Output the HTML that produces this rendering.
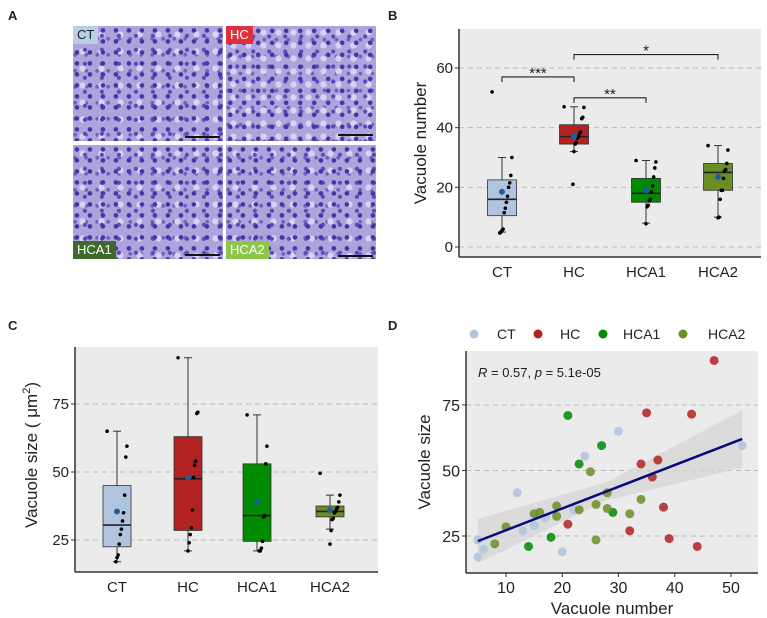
<!DOCTYPE html>
<html><head><meta charset="utf-8"><style>
body{margin:0;background:#fff;width:767px;height:618px;overflow:hidden;font-family:"Liberation Sans",Arial,sans-serif}
svg{position:absolute;left:0;top:0}
.img{position:absolute;background-color:#ad a2da;background-color:#aea3da;
background-image:radial-gradient(circle at 30% 40%,#4536a8 0 2px,transparent 2.6px),radial-gradient(circle at 70% 70%,#5a4cb8 0 1.8px,transparent 2.4px),radial-gradient(circle at 50% 50%,#d9d3f0 0 2.6px,transparent 3.6px),radial-gradient(circle at 20% 80%,#7060c0 0 1.6px,transparent 2.2px);
background-size:13px 11px,17px 14px,19px 17px,11px 16px}
.lab{position:absolute;font-size:13px;color:#222;padding:2px 4px;height:14px;line-height:14px}
.bar{position:absolute;height:2px;width:35px;background:#111}
</style></head><body>
<div class="img" style="left:73px;top:26px;width:150px;height:115px"></div>
<div class="img" style="left:226px;top:26px;width:150px;height:115px;background-size:14px 12px,16px 15px,15px 13px,12px 17px"></div>
<div class="img" style="left:73px;top:145px;width:150px;height:114px"></div>
<div class="img" style="left:226px;top:145px;width:150px;height:114px"></div>
<div class="lab" style="left:73px;top:26px;background:#b9d0e2">CT</div>
<div class="lab" style="left:226px;top:26px;background:#e0303e;color:#fff">HC</div>
<div class="lab" style="left:73px;top:241px;background:#3e6b2a;color:#fff">HCA1</div>
<div class="lab" style="left:226px;top:241px;background:#8cc64a;color:#fff">HCA2</div>
<div class="bar" style="left:185px;top:136px"></div>
<div class="bar" style="left:338px;top:134px"></div>
<div class="bar" style="left:185px;top:254px"></div>
<div class="bar" style="left:338px;top:255px"></div>
<svg id="s" width="767" height="618" xmlns="http://www.w3.org/2000/svg"></svg>
<script>
const groups=["CT","HC","HCA1","HCA2"];
const fills=["#b0c4de","#b22222","#008b00","#6b8e23"];
// Panel B
const bStats=[[5,10.5,16,22.5,30],[32,34.5,37,41,47],[8,15,18,23,29],[10,19,25,28,34]];
const bMeans=[18.5,37,19,23.5];
const bPts=[[52,30,24,21.5,20,17,15,13,11.5,6,5.5,5,4.7],[47,46.8,43.5,43,38.5,38,37,36.5,35,34.5,32,21],[29,28.5,26.5,23.5,20.5,18.5,16,15.5,14,13.5,7.8],[34,32.5,28,26,25.5,23,19,19,16,10,9.8]];
const bTicks=[0,20,40,60];
const bSig=[[0,1,57,"***"],[1,2,50,"**"],[1,3,64.5,"*"]];
// Panel C
const cStats=[[17,22.5,30.5,45,65],[21,28.5,47.5,63,92],[21,24.5,34,53,71],[29,33.5,35.5,37.5,41.5]];
const cMeans=[35.5,48,39,36];
const cPts=[[65,59.5,55.5,41.5,35,32,29,27,23.5,19.5,18.5,17],[92,72,71.5,54,52.5,48,36,29.5,27,24,21],[71,59.5,53,34,33.5,24.5,22,21,21],[49.5,41.5,39,37,36.5,35.5,35,33,32.5,28.5,23.5]];
const cTicks=[25,50,75];
// Panel D
const dX=[[5,5,6,12,13,15,17,20,22,24,30,52],[47,35,43,34,37,36,38,21,32,39,44],[21,27,23,29,18,14],[25,28,34,19,26,23,28,15,16,19,10,8,32,26]];
const dY=[[23.5,17,20,41.5,27,29,32,19,35,55.5,65,59.5],[92,72,71.5,52.5,54,47.5,36,29.5,27,24,21],[71,59.5,52.5,34,24.5,21],[49.5,41.5,39,36.5,37,35,35.5,33.5,34,32.5,28.5,22,33.5,23.5]];
const dXTicks=[10,20,30,40,50];
const dYTicks=[25,50,75];
const fitSlope=0.83, fitIntercept=18.9;

const S=document.getElementById('s');const NS="http://www.w3.org/2000/svg";
function el(t,a,txt){const e=document.createElementNS(NS,t);for(const k in a)e.setAttribute(k,a[k]);if(txt!==undefined)e.textContent=txt;S.appendChild(e);return e;}
function txt(x,y,s,size,anchor,name,extra){const e=el('text',Object.assign({x:x,y:y,'font-size':size,'text-anchor':anchor||'middle',fill:'#222','font-family':'Liberation Sans, Arial, sans-serif'},extra||{}),s);return e;}
[["A",8,20],["B",388,20],["C",8,330],["D",388,330]].forEach(p=>{txt(p[1],p[2],p[0],13,'start','panel-label',{'font-weight':'bold'});});

function boxPanel(o){
 const {L,R,T,B,y,xs,stats,means,pts,ticks,bw,name}=o;
 const bg=el('rect',{x:L,y:T,width:R-L,height:B-T,fill:'#ebebeb'});
 ticks.forEach(t=>{const g=el('line',{x1:L,x2:R,y1:y(t),y2:y(t),stroke:'#bbb','stroke-dasharray':'5,4','stroke-width':1});
  el('line',{x1:L-4,x2:L,y1:y(t),y2:y(t),stroke:'#333'});
  txt(L-6,y(t)+5,String(t),15,'end','y-tick-label');});
 el('line',{x1:L,x2:L,y1:T,y2:B,stroke:'#333','stroke-width':1.5});
 el('line',{x1:L,x2:R,y1:B,y2:B,stroke:'#333','stroke-width':1.5});
 groups.forEach((gname,i)=>{const x=xs[i],s=stats[i];
  el('line',{x1:x,x2:x,y1:y(s[0]),y2:y(s[4]),stroke:'#333'});
  el('line',{x1:x-4,x2:x+4,y1:y(s[0]),y2:y(s[0]),stroke:'#333'});
  el('line',{x1:x-4,x2:x+4,y1:y(s[4]),y2:y(s[4]),stroke:'#333'});
  const b=el('rect',{x:x-bw/2,y:y(s[3]),width:bw,height:y(s[1])-y(s[3]),fill:fills[i],stroke:'#333','stroke-width':0.8});
  
  el('line',{x1:x-bw/2,x2:x+bw/2,y1:y(s[2]),y2:y(s[2]),stroke:'#222','stroke-width':1.6});
  pts[i].forEach((v,j)=>{const p=el('circle',{cx:x+((j*37)%19-9)*1.1,cy:y(v),r:1.8,fill:'#000'});});
  const m=el('circle',{cx:x,cy:y(means[i]),r:3,fill:'#1f5fa0'});
  txt(x,B+20,gname,15,'middle','x-tick-label');
 });
}
const yB=v=>247-v*2.983;const xB=[502,574,646,718];
boxPanel({L:459,R:761,T:29,B:257,y:yB,xs:xB,stats:bStats,means:bMeans,pts:bPts,ticks:bTicks,bw:29,name:'vacuole-number'});
bSig.forEach(s=>{const x1=xB[s[0]],x2=xB[s[1]],yy=yB(s[2]);
 const p=el('path',{d:`M${x1} ${yy+5}V${yy}H${x2}V${yy+5}`,fill:'none',stroke:'#222','stroke-width':1.1});
 txt((x1+x2)/2,yy+1,s[3],15,'middle','significance-stars');});
txt(0,0,"Vacuole number",17,'middle','y-axis-title',{transform:'translate(426,143) rotate(-90)'});
const yC=v=>540-(v-25)*2.72;const xC=[117,188,257,330];
boxPanel({L:75,R:378,T:347,B:572,y:yC,xs:xC,stats:cStats,means:cMeans,pts:cPts,ticks:cTicks,bw:28,name:'vacuole-size'});
const yt=txt(0,0,"Vacuole size ( μm",17,'middle','y-axis-title',{transform:'translate(37,455) rotate(-90)'});
const sup=document.createElementNS(NS,'tspan');sup.setAttribute('dy','-7');sup.setAttribute('font-size','11');sup.textContent='2';yt.appendChild(sup);
const cl=document.createElementNS(NS,'tspan');cl.setAttribute('dy','7');cl.textContent=')';yt.appendChild(cl);
const L=466,R=758,T=351,B=573;
const xD=v=>506+(v-10)*5.625, yD=v=>536-(v-25)*2.62;
const dbg=el('rect',{x:L,y:T,width:R-L,height:B-T,fill:'#ebebeb'});
dYTicks.forEach(t=>{el('line',{x1:L,x2:R,y1:yD(t),y2:yD(t),stroke:'#bbb','stroke-dasharray':'5,4'});el('line',{x1:L-4,x2:L,y1:yD(t),y2:yD(t),stroke:'#333'});txt(L-6,yD(t)+6,String(t),16,'end','y-tick-label');});
dXTicks.forEach(t=>{el('line',{x1:xD(t),x2:xD(t),y1:B,y2:B+4,stroke:'#333'});txt(xD(t),B+20,String(t),16,'middle','x-tick-label');});
const fx=v=>fitIntercept+fitSlope*v;
const band=el('path',{d:`M${xD(5)} ${yD(fx(5)+8.5)} L${xD(28)} ${yD(fx(28)+3.5)} L${xD(52)} ${yD(fx(52)+11)} L${xD(52)} ${yD(fx(52)-11)} L${xD(28)} ${yD(fx(28)-3.5)} L${xD(5)} ${yD(fx(5)-8.5)}Z`,fill:'#d4d4d4',opacity:0.7});

groups.forEach((g,i)=>{dX[i].forEach((v,j)=>{const c=el('circle',{cx:xD(v),cy:yD(dY[i][j]),r:4.5,fill:fills[i],opacity:0.85});});});
const fl=el('line',{x1:xD(5),y1:yD(fx(5)),x2:xD(52),y2:yD(fx(52)),stroke:'#0a0a80','stroke-width':2.5});
el('line',{x1:L,x2:L,y1:T,y2:B,stroke:'#333','stroke-width':1.5});el('line',{x1:L,x2:R,y1:B,y2:B,stroke:'#333','stroke-width':1.5});
const st=txt(478,377,"",13,'start','correlation-annotation');
st.innerHTML='<tspan font-style="italic">R</tspan> = 0.57, <tspan font-style="italic">p</tspan> = 5.1e-05';
txt(0,0,"Vacuole size",17,'middle','y-axis-title',{transform:'translate(430,462) rotate(-90)'});
txt(612,614,"Vacuole number",17,'middle','x-axis-title');
const lx=[474,538,603,683],tx=[497,560,623,708];
groups.forEach((g,i)=>{const c=el('circle',{cx:lx[i],cy:334,r:4.5,fill:fills[i]});
 txt(tx[i],339,g,14,'start','legend-entry');});
</script>
</body></html>
